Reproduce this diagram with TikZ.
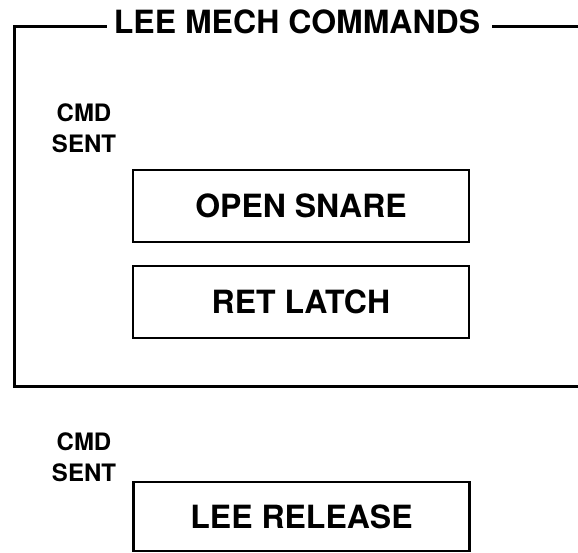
\documentclass[tikz,border=0pt]{standalone}
\usepackage{fontspec}
\setmainfont{TeX Gyre Heros}
\usetikzlibrary{positioning}

\tikzset{
  frameline/.style={line width=3pt},
  cmdbox/.style={draw, line width=2.8pt, minimum width=336pt, minimum height=72pt,
    inner sep=0pt, font=\fontsize{32}{38}\selectfont\bfseries},
  sentlabel/.style={align=center, inner sep=0pt, font=\fontsize{24}{31}\selectfont\bfseries}
}

\begin{document}
\begin{tikzpicture}[x=1pt, y=-1pt]
  \useasboundingbox (0,0) rectangle (578,553);
  % frame around the mech commands
  \node[inner sep=0pt, font=\fontsize{32}{38}\selectfont\bfseries] (title) at (297,22) {LEE MECH COMMANDS};
  \coordinate (tl) at (14,27);
  \coordinate (bl) at (14,386);
  \coordinate (br) at (580,386);
  \coordinate (tr) at (578,27);
  \draw[frameline] (br) -- (bl) -- (tl) -- ([xshift=-7pt]title.west |- tl);
  \draw[frameline] ([xshift=12pt]title.east |- tr) -- (tr);

  \node[sentlabel] (sentA) at (84,128) {CMD\\SENT};
  \node[cmdbox] (snare) at (301,206) {OPEN SNARE};
  \node[cmdbox] (latch) at (301,302) {RET LATCH};

  % outside the frame
  \node[sentlabel] (sentB) at (84,457) {CMD\\SENT};
  \node[cmdbox, minimum height=69pt] (release) at (301.5,516.5) {LEE RELEASE};
\end{tikzpicture}
\end{document}
